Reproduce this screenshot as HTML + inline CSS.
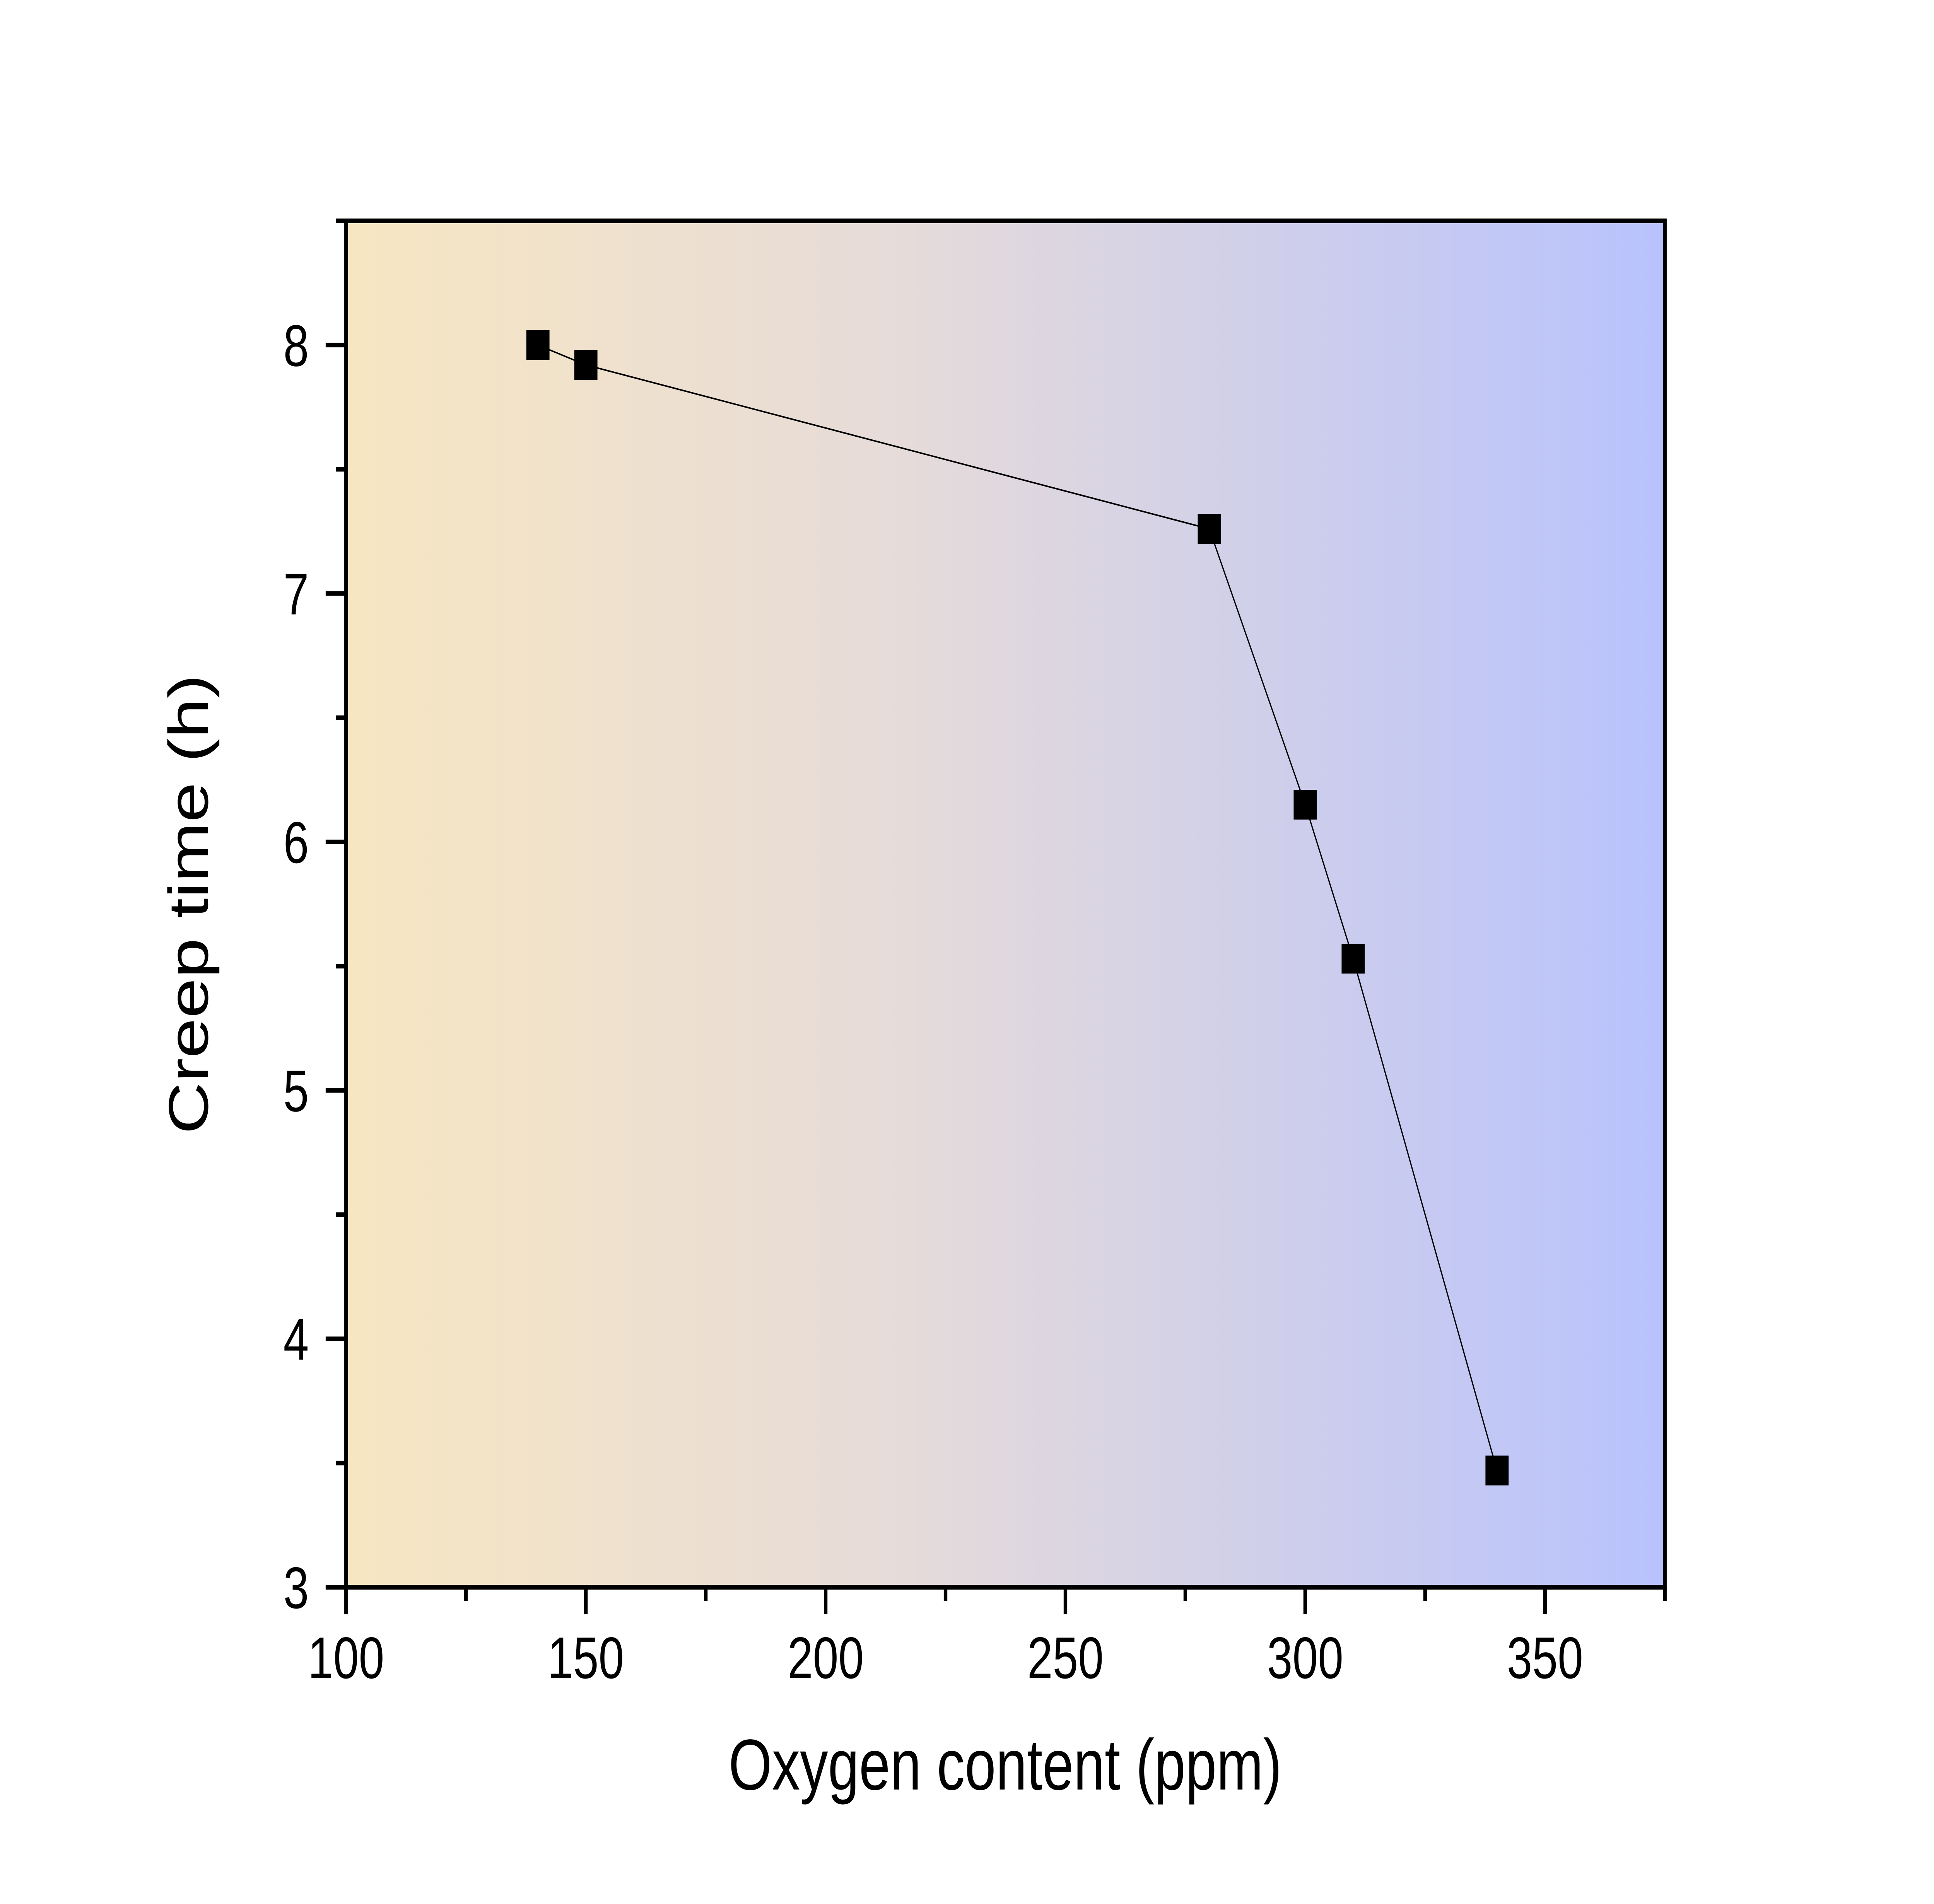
<!DOCTYPE html>
<html><head><meta charset="utf-8">
<style>
html,body{margin:0;padding:0;background:#fff;width:100%;height:100%;overflow:hidden;}
svg{display:block;width:100vw;height:100vh;}
text{font-family:"Liberation Sans",Arial,sans-serif;fill:#000;}
</style></head>
<body>
<svg id="chart" viewBox="0 0 6432 4923" preserveAspectRatio="none" xmlns="http://www.w3.org/2000/svg">
<defs>
<linearGradient id="bg" x1="0" y1="0" x2="1" y2="0">
<stop offset="0" stop-color="#f7e6c2"/>
<stop offset="0.4" stop-color="#e7dcd8"/>
<stop offset="1" stop-color="#b8c2fd"/>
</linearGradient>
</defs>
<rect x="1151" y="571" width="4386" height="3533" fill="url(#bg)"/>
<g id="series"></g>
<rect x="1151" y="571" width="4386" height="3533" fill="none" stroke="#000" stroke-width="12"/>
<g id="axes"></g>
<text x="3343" y="4627" font-size="186" text-anchor="middle">Oxygen content (ppm)</text>
<text transform="translate(691,2338) rotate(-90)" font-size="186" text-anchor="middle">Creep time (h)</text>
</svg>
<script>
const oxygen = [140, 150, 280, 300, 310, 340];
const creepTime = [8.0, 7.92, 7.26, 6.15, 5.53, 3.47];
const xTicks = [100, 150, 200, 250, 300, 350];
const xMinorTicks = [125, 175, 225, 275, 325, 375];
const yTicks = [3, 4, 5, 6, 7, 8];
const yMinorTicks = [3.5, 4.5, 5.5, 6.5, 7.5, 8.5];

const X0 = 1151, X1 = 5537, Y0 = 4104, Y1 = 571;
const xMin = 100, xMax = 375, yMin = 3, yMax = 8.5;
function sx(v){ return X0 + (v - xMin) / (xMax - xMin) * (X1 - X0); }
function sy(v){ return Y0 - (v - yMin) / (yMax - yMin) * (Y0 - Y1); }

const NS = "http://www.w3.org/2000/svg";
const axes = document.getElementById('axes');
const series = document.getElementById('series');
function mk(tag, attrs, parent){
  const e = document.createElementNS(NS, tag);
  for (const k in attrs) e.setAttribute(k, attrs[k]);
  parent.appendChild(e);
  return e;
}

xTicks.forEach(v => {
  const t = mk('line', {x1:sx(v), x2:sx(v), y1:Y0, y2:Y0+70, stroke:'#000', 'stroke-width':12}, axes);
  
  
  const l = mk('text', {x:sx(v), y:4339, 'font-size':152, 'text-anchor':'middle'}, axes);
  l.textContent = v;
  
  
});
xMinorTicks.forEach(v => {
  const t = mk('line', {x1:sx(v), x2:sx(v), y1:Y0, y2:Y0+36, stroke:'#000', 'stroke-width':12}, axes);
  
  
});
yTicks.forEach(v => {
  const t = mk('line', {x1:X0-68, x2:X0, y1:sy(v), y2:sy(v), stroke:'#000', 'stroke-width':12}, axes);
  
  
  const l = mk('text', {x:1027, y:sy(v)+54, 'font-size':152, 'text-anchor':'end'}, axes);
  l.textContent = v;
  
  
});
yMinorTicks.forEach(v => {
  const t = mk('line', {x1:X0-34, x2:X0, y1:sy(v), y2:sy(v), stroke:'#000', 'stroke-width':12}, axes);
  
  
});

const pts = oxygen.map((x,i) => sx(x) + ',' + sy(creepTime[i])).join(' ');
const line = mk('polyline', {points:pts, fill:'none', stroke:'#000', 'stroke-width':4}, series);


oxygen.forEach((x,i) => {
  const s = 77;
  const r = mk('rect', {x:sx(x)-s/2, y:sy(creepTime[i])-s/2, width:s, height:s, fill:'#000'}, series);
  
  
});
</script>
</body></html>
